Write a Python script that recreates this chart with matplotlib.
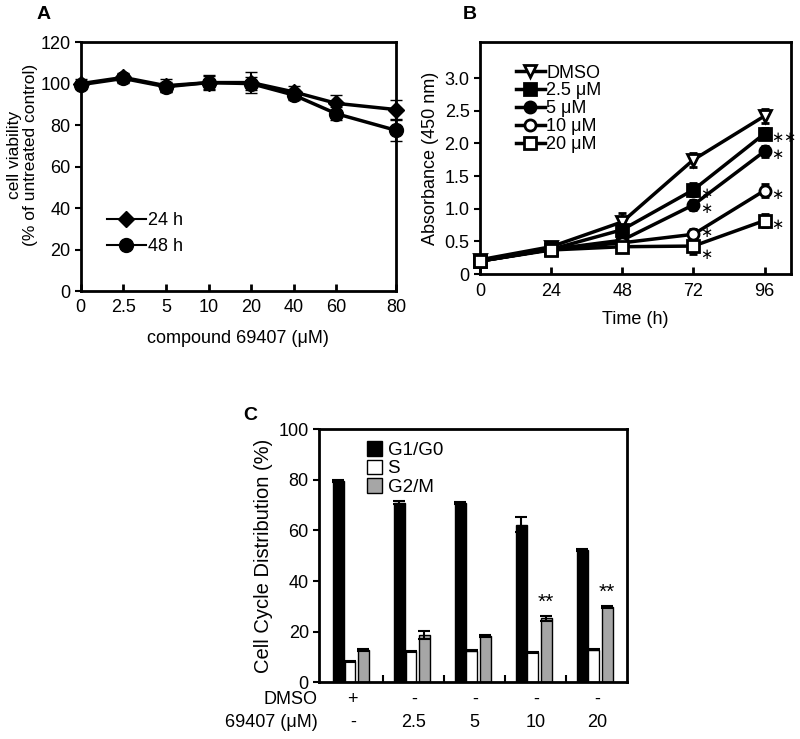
import numpy as np
import matplotlib
matplotlib.use('Agg')
import matplotlib.pyplot as plt
from matplotlib.lines import Line2D
from matplotlib.transforms import blended_transform_factory

plt.rcParams['font.family'] = ['Liberation Sans', 'DejaVu Sans']
plt.rcParams['font.size'] = 13
plt.rcParams['axes.linewidth'] = 2.0

# ---- panel A data ----
doses_a = ['0', '2.5', '5', '10', '20', '40', '60', '80']
pos_a = [0, 1, 2, 3, 4, 5, 6, 7.4]
via_24 = [100, 103, 99, 100.5, 100.5, 96, 90.5, 87.5]
err_24 = [2, 2, 3, 3.5, 5, 3, 4, 4.5]
via_48 = [99.5, 102.5, 98.5, 100.5, 100, 94.5, 85.5, 77.5]
err_48 = [2, 2, 2.5, 3, 3, 2.5, 3, 5]

# ---- panel B data ----
time_b = [0, 24, 48, 72, 96]
labels_b = ['DMSO', '2.5 μM', '5 μM', '10 μM', '20 μM']
abs_dmso = [0.22, 0.42, 0.80, 1.75, 2.42]
abs_25 = [0.20, 0.38, 0.68, 1.29, 2.15]
abs_5 = [0.20, 0.38, 0.52, 1.06, 1.88]
abs_10 = [0.20, 0.38, 0.48, 0.61, 1.28]
abs_20 = [0.20, 0.37, 0.42, 0.43, 0.82]
err_dmso = [0.06, 0.06, 0.13, 0.11, 0.10]
err_25 = [0.05, 0.05, 0.10, 0.10, 0.08]
err_5 = [0.05, 0.05, 0.08, 0.08, 0.08]
err_10 = [0.05, 0.05, 0.07, 0.08, 0.10]
err_20 = [0.05, 0.05, 0.06, 0.12, 0.10]
stars_b = {'2.5 μM': [(72, '*'), (96, '**')], '5 μM': [(72, '*'), (96, '*')],
           '10 μM': [(72, '*'), (96, '*')], '20 μM': [(72, '*'), (96, '*')]}

# ---- panel C data ----
dmso_row = ['+', '-', '-', '-', '-']
dose_row = ['-', '2.5', '5', '10', '20']
g1 = [79.5, 71, 71, 62.3, 52.3]
g1_err = [0.3, 0.6, 0.4, 3, 0.3]
s_phase = [8.2, 12.2, 12.5, 11.8, 12.8]
s_err = [0.2, 0.2, 0.2, 0.3, 0.2]
g2m = [12.6, 18.6, 18.2, 25.2, 29.8]
g2m_err = [0.3, 1.5, 0.5, 1.0, 0.4]
stars_c = ['', '', '', '**', '**']

# vertical nudges (points) for crowded stars in B
star_dy = {('10 μM', 72): 1, ('20 μM', 72): -6.5}


def star_text(s):
    # mathtext asterisk: compact box so stacked stars do not collide
    return '$' + r'\ast\!' * (len(s) - 1) + r'\ast$'


fig = plt.figure(figsize=(8, 7.39), dpi=100)

# ============ A ============
axA = fig.add_axes([0.101, 0.606, 0.394, 0.337])
axA.errorbar(pos_a, via_24, yerr=err_24, color='black', marker='D', ms=8, lw=2.5,
             capsize=4, elinewidth=1.5, clip_on=False, zorder=3)
axA.errorbar(pos_a, via_48, yerr=err_48, color='black', marker='o', ms=10, lw=2.5,
             capsize=4, elinewidth=1.5, clip_on=False, zorder=3)
axA.set_xlim(0, 7.4)
axA.set_ylim(0, 120)
axA.set_xticks(pos_a)
axA.set_xticklabels(doses_a)
axA.set_yticks(range(0, 121, 20))
axA.tick_params(axis='x', direction='in', length=5, width=2, pad=6)
axA.tick_params(axis='y', direction='out', length=4, width=1.5)
axA.set_xlabel('compound 69407 (μM)', labelpad=10)
axA.set_ylabel('cell viability\n(% of untreated control)', fontsize=12.5, linespacing=1.1)
axA.yaxis.set_label_coords(-0.135, 0.546)
hA = [Line2D([], [], color='black', lw=1.5, marker='D', ms=8),
      Line2D([], [], color='black', lw=1.5, marker='o', ms=10)]
axA.legend(hA, ['24 h', '48 h'], loc='lower left', bbox_to_anchor=(0.03, 0.08),
           frameon=False, handlelength=2.2, handletextpad=0.1, labelspacing=0.5,
           fontsize=13)
fig.text(0.046, 0.98, 'A', fontsize=14, fontweight='bold', va='center')

# ============ B ============
axB = fig.add_axes([0.6, 0.629, 0.389, 0.314])
series_b = [(abs_dmso, err_dmso, 'v', 'white'), (abs_25, err_25, 's', 'black'),
            (abs_5, err_5, 'o', 'black'), (abs_10, err_10, 'o', 'white'),
            (abs_20, err_20, 's', 'white')]
hB = []
for (vals, errs, mk, fc), lab in zip(series_b, labels_b):
    axB.errorbar(time_b, vals, yerr=errs, color='black', marker=mk, ms=8, mfc=fc,
                 mec='black', mew=2, lw=2.5, capsize=3, elinewidth=2,
                 clip_on=False, zorder=3)
    hB.append(Line2D([], [], color='black', lw=2.5, marker=mk, ms=8, mfc=fc,
                     mec='black', mew=2))
    for t, s in stars_b.get(lab, []):
        dy = star_dy.get((lab, t), -3)
        axB.annotate(star_text(s), (t, vals[time_b.index(t)]), xytext=(4.5, dy),
                     textcoords='offset points', fontsize=10.5, va='center')
axB.set_xlim(0, 105)
axB.set_ylim(0, 3.55)
axB.set_xticks(time_b)
axB.set_yticks([0, 0.5, 1.0, 1.5, 2.0, 2.5, 3.0])
axB.set_yticklabels(['0', '0.5', '1.0', '1.5', '2.0', '2.5', '3.0'])
axB.tick_params(axis='x', direction='in', length=5, width=2, pad=6)
axB.tick_params(axis='y', direction='out', length=4, width=1.5)
axB.set_xlabel('Time (h)', labelpad=8)
axB.set_ylabel('Absorbance (450 nm)')
axB.legend(hB, labels_b, loc='upper left', bbox_to_anchor=(0.08, 0.95), frameon=False,
           handlelength=1.6, handletextpad=0.1, labelspacing=0.05, fontsize=13,
           borderaxespad=0.2)
fig.text(0.579, 0.98, 'B', fontsize=14, fontweight='bold', va='center')

# ============ C ============
axC = fig.add_axes([0.399, 0.077, 0.385, 0.342])
x = np.arange(len(g1))
w = 0.18
axC.bar(x - 0.24, g1, w, yerr=g1_err, color='black', edgecolor='black', lw=1,
        capsize=4, error_kw=dict(elinewidth=1.5, capthick=1.5), label='G1/G0')
axC.bar(x - 0.045, s_phase, w, yerr=s_err, color='white', edgecolor='black', lw=1,
        capsize=4, error_kw=dict(elinewidth=1.5, capthick=1.5), label='S')
axC.bar(x + 0.17, g2m, w, yerr=g2m_err, color='#a6a6a6', edgecolor='black', lw=1,
        capsize=4, error_kw=dict(elinewidth=1.5, capthick=1.5), label='G2/M')
for i, s in enumerate(stars_c):
    if s:
        axC.text(x[i] + 0.17, g2m[i] + g2m_err[i] + 1.5, s, ha='center',
                 va='bottom', fontsize=15)
axC.set_xlim(-0.55, 4.5)
axC.set_ylim(0, 100)
axC.set_yticks(range(0, 101, 20))
axC.set_xticks(x[:-1] + 0.5)
axC.set_xticklabels([])
axC.tick_params(axis='x', direction='in', length=5, width=1.5)
axC.tick_params(axis='y', direction='out', length=4, width=1.5)
axC.set_ylabel('Cell Cycle Distribution (%)', fontsize=14.5)
tr = blended_transform_factory(axC.transData, axC.transAxes)
for i in range(len(x)):
    axC.text(x[i], -0.07, dmso_row[i], transform=tr, ha='center', va='center')
    axC.text(x[i], -0.158, dose_row[i], transform=tr, ha='center', va='center')
axC.text(-0.005, -0.07, 'DMSO', transform=axC.transAxes, ha='right', va='center')
axC.text(-0.005, -0.158, '69407 (μM)', transform=axC.transAxes, ha='right', va='center')
axC.legend(loc='upper left', bbox_to_anchor=(0.1, 1.02), frameon=False,
           handlelength=0.8, handleheight=0.8, handletextpad=0.3, labelspacing=0.05,
           fontsize=13.5)
fig.text(0.304, 0.438, 'C', fontsize=14, fontweight='bold', va='center')

fig.savefig('out.png', dpi=100)
